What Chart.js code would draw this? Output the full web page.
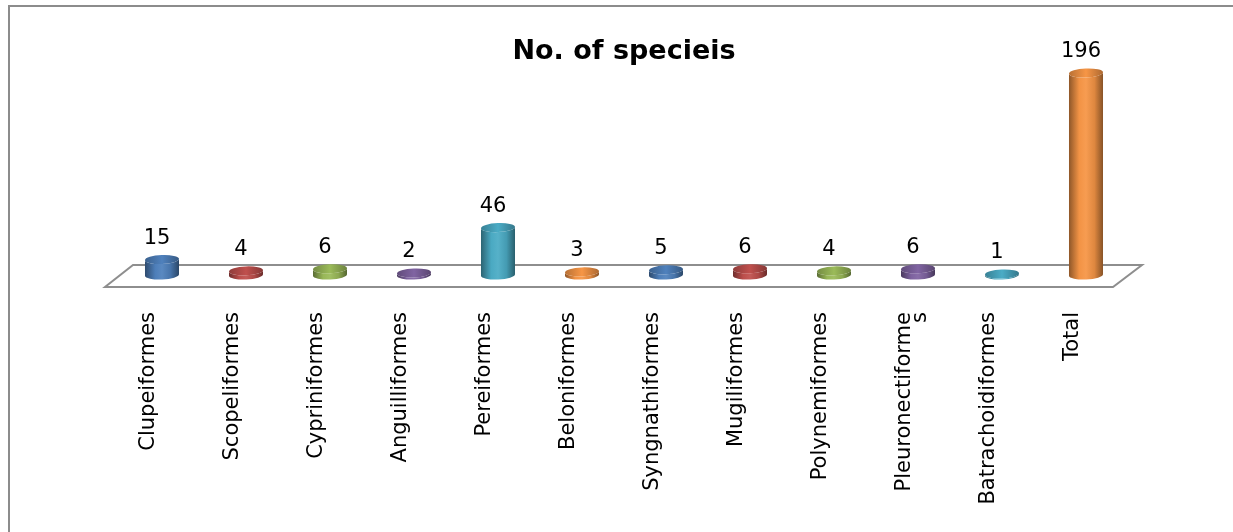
<!DOCTYPE html>
<html>
<head>
<meta charset="utf-8">
<title>No. of specieis</title>
<script src="https://cdn.jsdelivr.net/npm/chart.js@4.4.1/dist/chart.umd.min.js"></script>
<style>
  html, body { margin: 0; padding: 0; background: #fff; }
  canvas { display: block; }
</style>
</head>
<body>
<canvas id="chart" width="1233" height="532"></canvas>
<script>
// Orders of fish and the number of species recorded in each
const categories = [
  'Clupeiformes', 'Scopeliformes', 'Cypriniformes', 'Anguilliformes',
  'Pereiformes', 'Beloniformes', 'Syngnathiformes', 'Mugiliformes',
  'Polynemiformes', ['Pleuronectiforme', 's'], 'Batrachoidiformes', 'Total'
];
const speciesCount = [15, 4, 6, 2, 46, 3, 5, 6, 4, 6, 1, 196];
const palette = ['#4F81BD', '#C0504D', '#9BBB59', '#8064A2', '#4BACC6', '#F79646'];
const yMax = 200;

const FONT = '"DejaVu Sans", sans-serif';

function shade(hex, f) {
  const n = parseInt(hex.slice(1), 16);
  let r = (n >> 16) & 255, g = (n >> 8) & 255, b = n & 255;
  const t = f < 0 ? 0 : 255, p = Math.abs(f);
  r = Math.round(r + (t - r) * p);
  g = Math.round(g + (t - g) * p);
  b = Math.round(b + (t - b) * p);
  return `rgb(${r},${g},${b})`;
}

// White page and the thin grey frame around the chart
const framePlugin = {
  id: 'frame',
  beforeDraw(chart) {
    const ctx = chart.ctx;
    ctx.save();
    ctx.fillStyle = '#fff';
    ctx.fillRect(0, 0, chart.width, chart.height);
    ctx.strokeStyle = '#8c8c8c';
    ctx.lineWidth = 2;
    ctx.strokeRect(9, 6, chart.width + 10, chart.height - 2);
    ctx.restore();
  }
};

// Perspective floor under the cylinders
const floorPlugin = {
  id: 'floor',
  beforeDatasetsDraw(chart) {
    const { ctx, chartArea: a } = chart;
    const back = a.bottom - 10, front = a.bottom + 12;
    ctx.save();
    ctx.strokeStyle = '#8e8e8e';
    ctx.lineWidth = 2;
    ctx.beginPath();
    ctx.moveTo(a.left + 13, back);
    ctx.lineTo(a.right + 14, back);
    ctx.lineTo(a.right - 15, front);
    ctx.lineTo(a.left - 15, front);
    ctx.closePath();
    ctx.stroke();
    ctx.restore();
  }
};

// Each bar is drawn as a shaded cylinder, with its value above it
const cylinderPlugin = {
  id: 'cylinders',
  afterDatasetsDraw(chart) {
    const ctx = chart.ctx;
    const meta = chart.getDatasetMeta(0);
    const values = chart.data.datasets[0].data;
    meta.data.forEach((bar, i) => {
      const c = palette[i % palette.length];
      const r = bar.width / 2;
      const ry = 4.5;
      const tilt = -0.04;
      const x = bar.x, top = bar.y, base = bar.base;

      const grad = ctx.createLinearGradient(x - r, 0, x + r, 0);
      grad.addColorStop(0, shade(c, -0.42));
      grad.addColorStop(0.3, shade(c, -0.02));
      grad.addColorStop(0.5, shade(c, 0.06));
      grad.addColorStop(0.75, shade(c, -0.1));
      grad.addColorStop(1, shade(c, -0.45));

      ctx.save();
      ctx.beginPath();
      ctx.moveTo(x - r, top);
      ctx.lineTo(x - r, base);
      ctx.ellipse(x, base, r, ry, tilt, Math.PI, 0, true);
      ctx.lineTo(x + r, top);
      ctx.ellipse(x, top, r, ry, tilt, 0, Math.PI, false);
      ctx.closePath();
      ctx.fillStyle = grad;
      ctx.fill();

      const tgrad = ctx.createLinearGradient(x - r, 0, x + r, 0);
      tgrad.addColorStop(0, shade(c, -0.25));
      tgrad.addColorStop(0.5, shade(c, 0.0));
      tgrad.addColorStop(1, shade(c, -0.3));
      ctx.beginPath();
      ctx.ellipse(x, top, r, ry, tilt, 0, Math.PI * 2);
      ctx.fillStyle = tgrad;
      ctx.fill();

      ctx.fillStyle = '#000';
      ctx.font = '21px ' + FONT;
      ctx.textAlign = 'center';
      ctx.textBaseline = 'middle';
      ctx.fillText(String(values[i]), x - 5, top - 21);
      ctx.restore();
    });
  }
};

new Chart(document.getElementById('chart'), {
  type: 'bar',
  data: {
    labels: categories,
    datasets: [{
      label: 'No. of specieis',
      data: speciesCount,
      backgroundColor: 'rgba(0,0,0,0)',
      borderWidth: 0,
      barPercentage: 0.405,
      categoryPercentage: 1
    }]
  },
  options: {
    responsive: false,
    animation: false,
    events: [],
    layout: { padding: { left: 120, right: 105, top: 0, bottom: 0 } },
    plugins: {
      legend: { display: false },
      tooltip: { enabled: false },
      title: {
        display: true,
        text: 'No. of specieis',
        color: '#000',
        font: { family: FONT, size: 27, weight: 'bold', lineHeight: 1.2 },
        padding: { top: 36, bottom: 0.5 }
      }
    },
    scales: {
      x: {
        offset: true,
        grid: { display: false, drawTicks: false },
        border: { display: false },
        ticks: {
          autoSkip: false,
          minRotation: 90,
          maxRotation: 90,
          padding: 37,
          labelOffset: -13,
          color: '#000',
          font: { family: FONT, size: 21, lineHeight: 0.75 }
        },
        afterFit(scale) { scale.height = 257; }
      },
      y: {
        display: false,
        min: 0,
        max: yMax
      }
    }
  },
  plugins: [framePlugin, floorPlugin, cylinderPlugin]
});
</script>
</body>
</html>
